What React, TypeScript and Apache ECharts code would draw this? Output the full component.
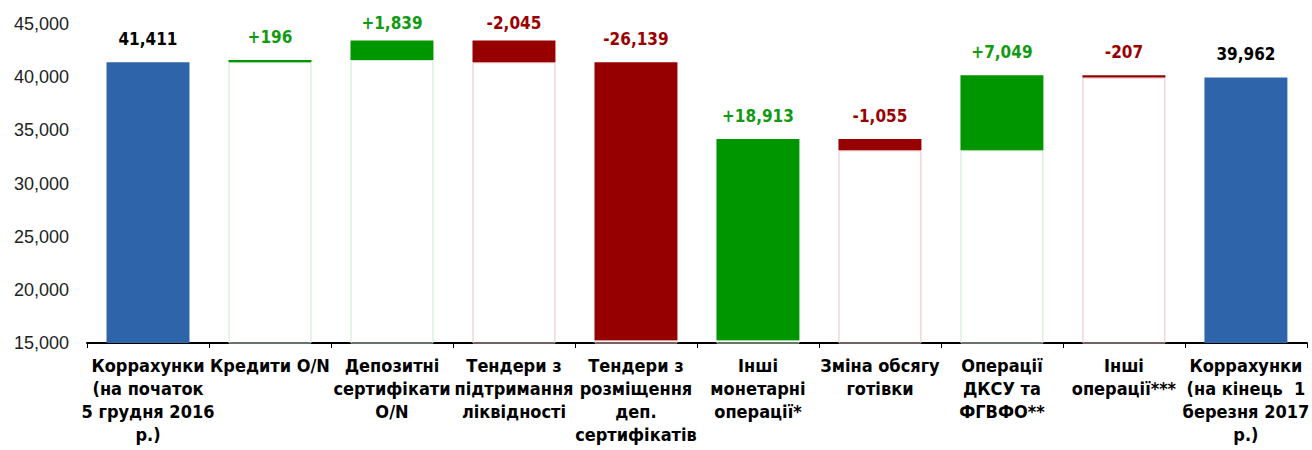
import React, { useEffect, useRef } from "react";
import * as echarts from "echarts";

const categories = [
  "Коррахунки\n(на початок\n5 грудня 2016\nр.)",
  "Кредити O/N",
  "Депозитні\nсертифікати\nO/N",
  "Тендери з\nпідтримання\nліквідності",
  "Тендери з\nрозміщення\nдеп.\nсертифікатів",
  "Інші\nмонетарні\nоперації*",
  "Зміна обсягу\nготівки",
  "Операції\nДКСУ та\nФГВФО**",
  "Інші\nоперації***",
  "Коррахунки\n(на кінець  1\nберезня 2017\nр.)",
];
// null = total column
const startTotal = 41411;
const deltas: (number | null)[] = [null, 196, 1839, -2045, -26139, 18913, -1055, 7049, -207, null];
const endTotal = 39962;
const yTicks = { min: 15000, max: 45000, interval: 5000 };

const BLUE = "#2E64A9";
const GREEN = "#009600";
const RED = "#960000";
const GREEN_TXT = "#139A13";
const RED_TXT = "#9A0000";
const NEAR_TOP = 43000;

function build() {
  const base: any[] = [];
  const total: any[] = [];
  const inc: any[] = [];
  const dec: any[] = [];
  let running = startTotal;
  deltas.forEach((d, i) => {
    if (d === null) {
      const v = i === 0 ? startTotal : endTotal;
      base.push("-");
      total.push(v);
      inc.push("-");
      dec.push("-");
    } else {
      const next = running + d;
      const low = Math.min(running, next);
      const high = Math.max(running, next);
      base.push({
        value: low,
        itemStyle: { borderColor: d >= 0 ? "#CFE8CF" : "#E8C4C4" },
      });
      total.push("-");
      const item = { value: Math.abs(d), label: high > NEAR_TOP ? { distance: 9 } : undefined };
      if (d >= 0) {
        inc.push(item);
        dec.push("-");
      } else {
        inc.push("-");
        dec.push(item);
      }
      running = next;
    }
  });
  return { base, total, inc, dec };
}

const fmt = (n: number) => n.toLocaleString("en-US");

export default function App() {
  const ref = useRef<HTMLDivElement>(null);
  useEffect(() => {
    if (!ref.current) return;
    const chart = echarts.init(ref.current, null, { renderer: "svg" });
    const { base, total, inc, dec } = build();
    const labelFont = {
      fontFamily: "'Liberation Sans Narrow', 'DejaVu Sans Condensed', Arial, sans-serif",
      fontWeight: "bold" as const,
      fontSize: 17,
    };
    chart.setOption({
      animation: false,
      grid: { left: 87, right: 1, top: 24, bottom: 107, containLabel: false },
      xAxis: {
        type: "category",
        data: categories,
        axisLine: { show: true, lineStyle: { color: "#000", width: 2 } },
        axisTick: { show: true, length: 5, lineStyle: { color: "#000", width: 1 } },
        axisLabel: {
          interval: 0,
          margin: 11,
          color: "#000",
          fontFamily: "'Liberation Sans Narrow', 'DejaVu Sans Condensed', Arial, sans-serif",
          fontWeight: "bold",
          fontSize: 18,
          lineHeight: 23,
        },
      },
      yAxis: {
        type: "value",
        min: yTicks.min,
        max: yTicks.max,
        interval: yTicks.interval,
        axisLine: { show: false },
        axisTick: { show: false },
        splitLine: { show: false },
        axisLabel: {
          color: "#222",
          fontFamily: "'Liberation Sans', Arial, sans-serif",
          fontSize: 18,
          margin: 18,
          formatter: (v: number) => fmt(v),
        },
      },
      series: [
        {
          name: "base",
          type: "bar",
          stack: "w",
          barCategoryGap: "32%",
          itemStyle: { color: "rgba(255,255,255,0)", borderWidth: 1 },
          data: base,
          silent: true,
        },
        {
          name: "total",
          type: "bar",
          stack: "w",
          itemStyle: { color: BLUE },
          label: {
            show: true,
            position: "top",
            distance: 15,
            color: "#000",
            ...labelFont,
            formatter: (p: any) => fmt(p.value),
          },
          data: total,
        },
        {
          name: "increase",
          type: "bar",
          stack: "w",
          itemStyle: { color: GREEN },
          label: {
            show: true,
            position: "top",
            distance: 15,
            color: GREEN_TXT,
            ...labelFont,
            formatter: (p: any) => "+" + fmt(p.value),
          },
          data: inc,
        },
        {
          name: "decrease",
          type: "bar",
          stack: "w",
          itemStyle: { color: RED },
          label: {
            show: true,
            position: "top",
            distance: 15,
            color: RED_TXT,
            ...labelFont,
            formatter: (p: any) => "-" + fmt(p.value),
          },
          data: dec,
        },
      ],
    });
    return () => chart.dispose();
  }, []);
  return (
    <div
      ref={ref}
      style={{ position: "absolute", left: 0, top: 0, width: 1312, height: 450, background: "#fff" }}
    />
  );
}
